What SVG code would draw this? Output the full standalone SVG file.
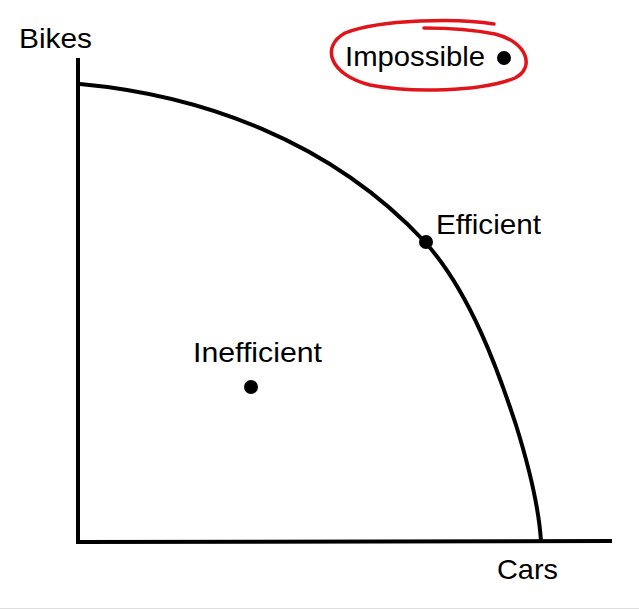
<svg xmlns="http://www.w3.org/2000/svg" width="639" height="610" viewBox="0 0 639 610">
<style>
.t{font-family:"Liberation Sans",Arial,sans-serif;font-size:28px;fill:#000}
.ax{stroke:#000;stroke-width:4;fill:none}
</style>
<rect width="639" height="610" fill="#fff"/>
<g id="axes">
<line class="ax" x1="78" y1="58" x2="78" y2="543"/>
<line class="ax" x1="76" y1="542" x2="612" y2="541"/>
</g>
<g id="connectors">
<path class="ax" d="M80,84 C200,95 330,140 425,242 C470,292 498,370 516,425 C530,470 539,510 541,541"/>
</g>
<g id="bikes"><text class="t" x="19" y="48" textLength="73" lengthAdjust="spacingAndGlyphs">Bikes</text></g>
<g id="cars"><text class="t" x="497" y="579" textLength="61" lengthAdjust="spacingAndGlyphs">Cars</text></g>
<g id="impossible">
<path d="M494,24 C460,18 380,19 345,33 C320,47 330,75 370,85 C410,93 480,92 515,78 C535,68 528,42 495,34 C470,29 445,28 424,28" fill="none" stroke="#e0141a" stroke-width="3.5" stroke-linecap="round"/>
<text class="t" x="345" y="66" textLength="140" lengthAdjust="spacingAndGlyphs">Impossible</text>
<circle cx="504" cy="58" r="7"/>
</g>
<g id="efficient">
<text class="t" x="436" y="234" textLength="105" lengthAdjust="spacingAndGlyphs">Efficient</text>
<circle cx="426" cy="242" r="7"/>
</g>
<g id="inefficient">
<text class="t" x="193" y="362" textLength="129" lengthAdjust="spacingAndGlyphs">Inefficient</text>
<circle cx="251" cy="387" r="7"/>
</g>
<line x1="0" y1="608.5" x2="639" y2="608.5" stroke="#ddd" stroke-width="1"/>
</svg>
